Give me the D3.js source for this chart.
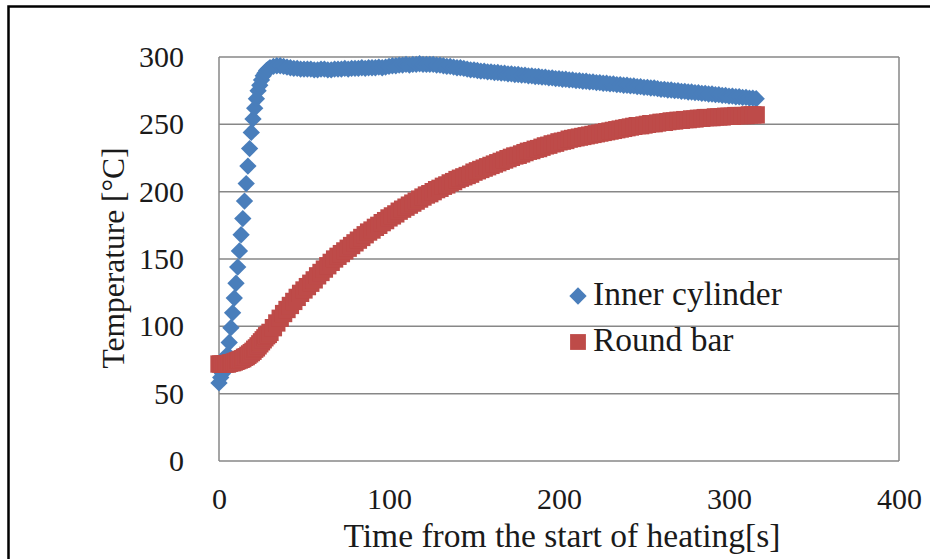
<!DOCTYPE html>
<html>
<head>
<meta charset="utf-8">
<script src="https://cdn.jsdelivr.net/npm/d3@7"></script>
<style>
  body { margin: 0; background: #fff; }
  text { font-family: "Liberation Serif", "Times New Roman", serif; fill: #1a1a1a; }
</style>
</head>
<body>
<div id="chart"></div>
<script>
// time [s] of each sample (1 s steps during the fast rise, 2 s after)
var times = [
  0, 1, 2, 3, 4, 5, 6, 7, 8, 9, 10, 11, 12, 13, 14, 15, 16, 17, 18, 19, 20,
  21, 22, 23, 24, 25, 26, 27, 28, 29, 30,
  32, 34, 36, 38, 40, 42, 44, 46, 48, 50,
  52, 54, 56, 58, 60, 62, 64, 66, 68, 70,
  72, 74, 76, 78, 80, 82, 84, 86, 88, 90,
  92, 94, 96, 98, 100, 102, 104, 106, 108, 110,
  112, 114, 116, 118, 120, 122, 124, 126, 128, 130,
  132, 134, 136, 138, 140, 142, 144, 146, 148, 150,
  152, 154, 156, 158, 160, 162, 164, 166, 168, 170,
  172, 174, 176, 178, 180, 182, 184, 186, 188, 190,
  192, 194, 196, 198, 200, 202, 204, 206, 208, 210,
  212, 214, 216, 218, 220, 222, 224, 226, 228, 230,
  232, 234, 236, 238, 240, 242, 244, 246, 248, 250,
  252, 254, 256, 258, 260, 262, 264, 266, 268, 270,
  272, 274, 276, 278, 280, 282, 284, 286, 288, 290,
  292, 294, 296, 298, 300, 302, 304, 306, 308, 310,
  312, 314, 316
];

// Inner cylinder temperature [°C]
var innerCylinder = [
  58, 62, 65, 69, 73, 79, 88, 99, 110, 121, 132, 144, 156, 168, 180, 193,
  206, 219, 232, 244, 254, 262, 269, 275, 279, 283, 286, 288, 290, 291, 292,
  293, 293.5, 293.5, 293, 292.5, 292, 291.5, 291.5, 291, 291,
  291, 291, 290.5, 290.5, 291, 291, 290.5, 290.5, 291, 291,
  291, 291.5, 291, 291.5, 291.5, 291.5, 292, 291.5, 292, 292,
  292, 292.5, 292, 292.5, 293, 293.5, 293.5, 294, 294, 294.5,
  294, 294.5, 294.5, 295, 294.5, 294.5, 294.5, 294.5, 294, 294,
  293.5, 293, 293, 292.5, 292, 292, 291.5, 291, 290.5, 290.5,
  290, 289.5, 289.5, 289, 289, 288.5, 288.5, 288, 288, 287.5,
  287.5, 287, 287, 286.5, 286.5, 286, 286, 285.5, 285.5, 285,
  285, 284.5, 284.5, 284, 284, 283.5, 283.5, 283, 283, 282.5,
  282.5, 282, 282, 281.5, 281.5, 281, 281, 280.5, 280.5, 280,
  280, 279.5, 279.5, 279, 279, 278.5, 278.5, 278, 278, 277.5,
  277.5, 277, 277, 276.5, 276, 276, 275.5, 275.5, 275, 275,
  274.5, 274.5, 274, 274, 273.5, 273.5, 273, 273, 272.5, 272.5,
  272, 272, 271.5, 271.5, 271, 271, 270.5, 270.5, 270, 270,
  269.5, 269.5, 269
];

// Round bar temperature [°C]
var roundBar = [
  72, 72, 72, 72, 72, 72, 72.5, 73, 73, 73.5, 74, 74.5, 75, 75.5, 76, 77,
  77.5, 78.5, 79.5, 80.5, 81.5, 83, 84, 85.5, 87, 88.5, 90, 91.5, 93, 94, 95.5,
  99, 102.5, 106, 109.5, 112.5, 115.5, 118.5, 121.5, 124.5, 127,
  129.5, 132, 134.5, 137.5, 140, 142.5, 145, 147.5, 150, 152,
  154, 156, 158, 160, 162, 164, 166, 168, 170, 171.5,
  173.5, 175, 177, 178.5, 180.5, 182, 183.5, 185.5, 187, 188.5,
  190, 191.5, 193, 194.5, 196, 197.5, 198.5, 200, 201.5, 202.5,
  204, 205, 206.5, 207.5, 209, 210, 211, 212, 213, 214.5,
  215.5, 216.5, 217.5, 218.5, 219.5, 220.5, 221.5, 222.5, 223.5, 224.5,
  225.5, 226.5, 227, 228, 229, 230, 230.5, 231.5, 232, 233,
  234, 234.5, 235.5, 236, 237, 237.5, 238, 239, 239.5, 240,
  240.5, 241, 241.5, 242, 242.5, 243, 243.5, 244, 244.5, 245,
  245.5, 246, 246.5, 247, 247.5, 248, 248.5, 249, 249, 249.5,
  250, 250.5, 250.5, 251, 251.5, 251.5, 252, 252.5, 252.5, 253,
  253, 253.5, 253.5, 254, 254, 254.5, 254.5, 255, 255, 255,
  255.5, 255.5, 255.5, 256, 256, 256, 256.5, 256.5, 256.5, 256.5,
  257, 257, 257
];

var seriesNames = ["Inner cylinder", "Round bar"];
var xTicks = [0, 100, 200, 300, 400];
var yTicks = [0, 50, 100, 150, 200, 250, 300];

var width = 930, height = 559;
var margin = {top: 57, right: 31, bottom: 98, left: 219};

var svg = d3.select("#chart")
  .append("svg")
    .attr("width", width)
    .attr("height", height);

// soft edges, the original is a slightly blurry screenshot
svg.append("defs").append("filter")
    .attr("id", "soft")
  .append("feGaussianBlur")
    .attr("stdDeviation", 0.6);

// outer black frame (runs off the right and bottom edges)
svg.append("rect")
    .attr("x", 8.5)
    .attr("y", 6.5)
    .attr("width", 960)
    .attr("height", 600)
    .attr("fill", "none")
    .attr("stroke", "#000")
    .attr("stroke-width", 2.5);

var x = d3.scaleLinear()
    .domain([0, 400])
    .range([margin.left, width - margin.right]);

var y = d3.scaleLinear()
    .domain([0, 300])
    .range([height - margin.bottom, margin.top]);

// gridlines
svg.append("g")
  .selectAll("line")
  .data(yTicks)
  .join("line")
    .attr("x1", x(0))
    .attr("x2", x(400))
    .attr("y1", d => y(d))
    .attr("y2", d => y(d))
    .attr("stroke", "#878787")
    .attr("stroke-width", 1.5);

// plot area border (left & right)
svg.append("line")
    .attr("x1", x(0)).attr("x2", x(0))
    .attr("y1", y(0)).attr("y2", y(300))
    .attr("stroke", "#878787").attr("stroke-width", 1.5);
svg.append("line")
    .attr("x1", x(400)).attr("x2", x(400))
    .attr("y1", y(0)).attr("y2", y(300))
    .attr("stroke", "#878787").attr("stroke-width", 1.5);

// axes (labels only, no tick marks)
var xAxis = svg.append("g")
    .attr("transform", "translate(0," + y(0) + ")")
    .call(d3.axisBottom(x).tickValues(xTicks).tickSize(0).tickPadding(27));
var yAxis = svg.append("g")
    .attr("transform", "translate(" + x(0) + ",0)")
    .call(d3.axisLeft(y).tickValues(yTicks).tickSize(0).tickPadding(35));

[xAxis, yAxis].forEach(function(a) {
  a.select(".domain").remove();
  a.selectAll("text")
    .style("font-family", "'Liberation Serif', 'Times New Roman', serif")
    .style("font-size", "30px")
    .attr("fill", "#1a1a1a");
});

// axis titles
svg.append("text")
    .attr("x", (x(0) + x(400)) / 2 + 3)
    .attr("y", 547)
    .attr("text-anchor", "middle")
    .style("font-size", "33.5px")
    .text("Time from the start of heating[s]");

svg.append("text")
    .attr("transform", "translate(124," + 258 + ") rotate(-90)")
    .attr("text-anchor", "middle")
    .style("font-size", "31.5px")
    .text("Temperature  [\u00B0C]");

// marker shapes (Excel style: square-cornered diamond, plain square)
var diamondType = {
  draw: function(ctx, size) {
    var r = Math.sqrt(size / 2);
    ctx.moveTo(0, -r);
    ctx.lineTo(r, 0);
    ctx.lineTo(0, r);
    ctx.lineTo(-r, 0);
    ctx.closePath();
  }
};
var squareType = {
  draw: function(ctx, size) {
    var s = Math.sqrt(size) / 2;
    ctx.rect(-s, -s, s * 2, s * 2);
  }
};

var colors = ["#4a7ebb", "#be4b48"];

var innerData = times.map((t, i) => ({t: t, v: innerCylinder[i]}));
var barData = times.map((t, i) => ({t: t, v: roundBar[i]}));

svg.append("g")
    .attr("filter", "url(#soft)")
  .selectAll("path")
  .data(innerData)
  .join("path")
    .attr("transform", d => "translate(" + x(d.t) + "," + y(d.v) + ")")
    .attr("d", d3.symbol().type(diamondType).size(150))
    .attr("fill", colors[0]);

svg.append("g")
    .attr("filter", "url(#soft)")
  .selectAll("path")
  .data(barData)
  .join("path")
    .attr("transform", d => "translate(" + x(d.t) + "," + y(d.v) + ")")
    .attr("d", d3.symbol().type(squareType).size(300))
    .attr("fill", colors[1]);

// legend
var legend = svg.append("g");
var legendY = [296, 342];
var legendTypes = [diamondType, squareType];
var legendSizes = [150, 250];

seriesNames.forEach(function(name, i) {
  legend.append("path")
      .attr("transform", "translate(578," + legendY[i] + ")")
      .attr("d", d3.symbol().type(legendTypes[i]).size(legendSizes[i]))
      .attr("fill", colors[i]);
  legend.append("text")
      .attr("x", 593)
      .attr("y", legendY[i] + 9)
      .style("font-size", "33.5px")
      .text(name);
});
</script>
</body>
</html>
